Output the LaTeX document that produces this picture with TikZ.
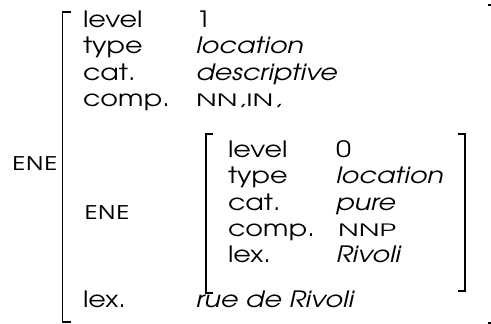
\documentclass[tikz,border=0pt]{standalone}
\usepackage{fontspec}
\setmainfont{texgyreadventor}[Extension=.otf, UprightFont=*-regular, ItalicFont=*-italic, BoldFont=*-bold, BoldItalicFont=*-bolditalic, FakeStretch=1.2]
\newfontfamily\tagfont{texgyreadventor}[Extension=.otf, UprightFont=*-regular, FakeStretch=1.65]
\newfontfamily\enefont{Open Sans}[FakeStretch=1.25]
\newcommand{\mainsz}{\fontsize{22.5}{26}\selectfont}
\newcommand{\tagsz}{\tagfont\fontsize{17}{20}\selectfont}
\begin{document}
\begin{tikzpicture}[x=1pt,y=-1pt,
  txt/.style={anchor=base west, inner sep=0pt, outer sep=0pt, font=\mainsz},
  val/.style={txt, font=\mainsz\itshape},
  tag/.style={txt, font=\tagsz},
  ene/.style={txt, font=\enefont\fontsize{19.5}{23}\selectfont},
  brk/.style={line width=1.2pt, line cap=butt}]
\useasboundingbox (0,0) rectangle (491,324);
% outer bracket
\draw[brk] (71,12) -- (62.5,12) -- (62.5,322) -- (71,322);
\draw[brk] (488,5) -- (492,5) -- (492,323) -- (488,323);
% inner bracket
\draw[brk] (213,134) -- (206,134) -- (206,293) -- (213,293);
\draw[brk] (458,134) -- (465,134) -- (465,291) -- (458,291);
% outer labels
\node[ene] (eneo) at (12,170) {ENE};
\node[txt] (k1) at (83,27.5) {level};
\node[txt] (v1) at (196,27.5) {1};
\node[txt] (k2) at (83,53.5) {type};
\node[val] (v2) at (196,53.5) {location};
\node[txt] (k3) at (83,80) {cat.};
\node[val] (v3) at (196,80) {descriptive};
\node[txt] (k4) at (83,106) {comp.};
\node[tag] (v4) at (196,106) {NN\kern1pt,IN\kern1pt,};
\node[ene] (enei) at (84,219) {ENE};
\node[txt] (k5) at (83,307) {lex.};
\node[val] (v5) at (196,307) {rue de Rivoli};
% inner labels
\node[txt] (i1) at (228,157) {level};
\node[txt] (j1) at (336,157) {0};
\node[txt] (i2) at (228,183) {type};
\node[val] (j2) at (336,183) {location};
\node[txt] (i3) at (228,210) {cat.};
\node[val] (j3) at (336,210) {pure};
\node[txt] (i4) at (228,236) {comp.};
\node[tag] (j4) at (338,236) {NNP};
\node[txt] (i5) at (228,262) {lex.};
\node[val] (j5) at (336,262) {Rivoli};
\end{tikzpicture}
\end{document}
